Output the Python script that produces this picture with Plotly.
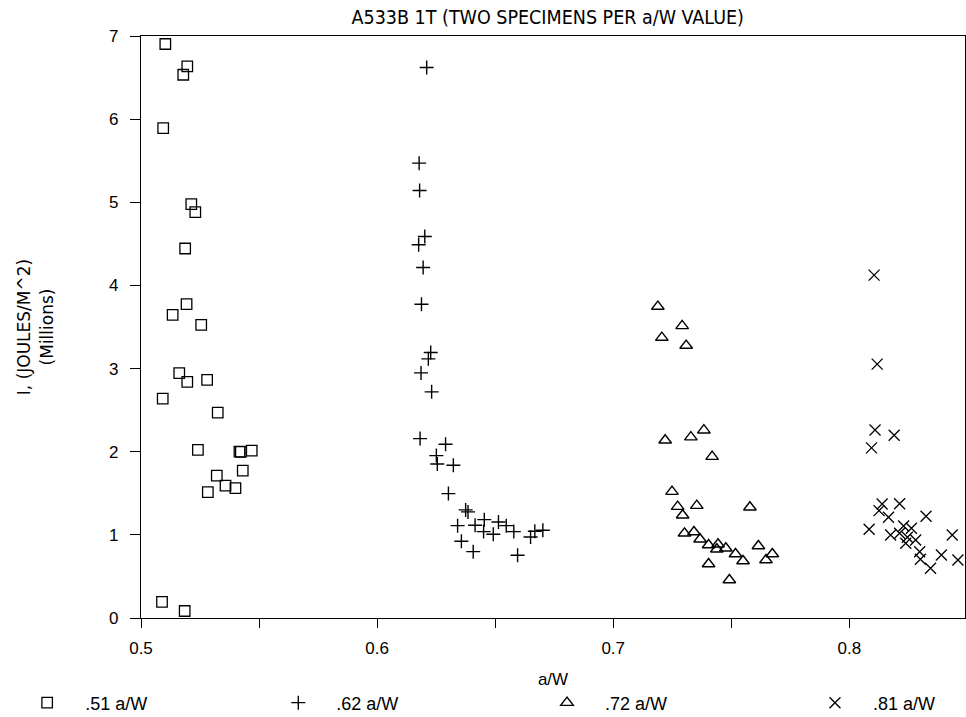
import plotly.graph_objects as go

# ---- data ----
sq_x = [0.5103, 0.5196, 0.5179, 0.5094, 0.5213, 0.5230, 0.5187, 0.5193, 0.5134, 0.5255,
        0.5162, 0.5196, 0.5280, 0.5092, 0.5325, 0.5241, 0.5417, 0.5423, 0.5469, 0.5431,
        0.5321, 0.5358, 0.5400, 0.5283, 0.5089, 0.5185]
sq_y = [6.904, 6.634, 6.534, 5.893, 4.978, 4.882, 4.444, 3.775, 3.646, 3.526,
        2.945, 2.840, 2.864, 2.639, 2.471, 2.022, 2.001, 1.998, 2.013, 1.773,
        1.712, 1.592, 1.561, 1.513, 0.193, 0.084]

pl_x = [0.6210, 0.6178, 0.6180, 0.6202, 0.6176, 0.6195, 0.6188, 0.6227, 0.6217, 0.6186,
        0.6231, 0.6182, 0.6290, 0.6251, 0.6255, 0.6323, 0.6302, 0.6375, 0.6385, 0.6341,
        0.6415, 0.6454, 0.6451, 0.6492, 0.6514, 0.6547, 0.6579, 0.6357, 0.6407, 0.6595,
        0.6650, 0.6668, 0.6702]
pl_y = [6.622, 5.471, 5.142, 4.588, 4.489, 4.215, 3.773, 3.193, 3.117, 2.948,
        2.720, 2.158, 2.090, 1.953, 1.853, 1.838, 1.496, 1.300, 1.276, 1.111,
        1.116, 1.183, 1.039, 1.007, 1.155, 1.111, 1.039, 0.923, 0.798, 0.755,
        0.975, 1.043, 1.055]

tr_x = [0.7189, 0.7292, 0.7206, 0.7309, 0.7384, 0.7329, 0.7220, 0.7419, 0.7249, 0.7354,
        0.7273, 0.7579, 0.7294, 0.7302, 0.7342, 0.7368, 0.7404, 0.7444, 0.7439, 0.7477,
        0.7518, 0.7615, 0.7550, 0.7674, 0.7647, 0.7404, 0.7492]
tr_y = [3.746, 3.514, 3.373, 3.277, 2.259, 2.175, 2.138, 1.941, 1.520, 1.351,
        1.339, 1.332, 1.236, 1.019, 1.035, 0.947, 0.878, 0.887, 0.827, 0.839,
        0.770, 0.866, 0.686, 0.770, 0.698, 0.650, 0.457]

xx_x = [0.8105, 0.8118, 0.8109, 0.8190, 0.8094, 0.8139, 0.8213, 0.8126, 0.8166, 0.8325,
        0.8084, 0.8230, 0.8263, 0.8175, 0.8213, 0.8246, 0.8281, 0.8239, 0.8436, 0.8298,
        0.8390, 0.8301, 0.8460, 0.8344]
xx_y = [4.124, 3.053, 2.262, 2.198, 2.046, 1.372, 1.375, 1.291, 1.211, 1.223,
        1.067, 1.107, 1.079, 0.999, 1.019, 0.971, 0.939, 0.899, 0.999, 0.797,
        0.758, 0.706, 0.698, 0.598]

series_names = [".51 a/W", ".62 a/W", ".72 a/W", ".81 a/W"]
x_tickvals = [0.5, 0.55, 0.6, 0.65, 0.7, 0.75, 0.8]
x_ticktext = ["0.5", "", "0.6", "", "0.7", "", "0.8"]
y_tickvals = [0, 1, 2, 3, 4, 5, 6, 7]

title_text = "A533B 1T (TWO SPECIMENS PER a/W VALUE)"
x_title = "a/W"
y_title = "I, (JOULES/M^2)<br>(Millions)"

narrow = "Liberation Sans Narrow, DejaVu Sans Condensed, Arial Narrow, sans-serif"
regular = "Liberation Sans, Arial, sans-serif"
wide = "DejaVu Sans, Verdana, sans-serif"

fig = go.Figure()
specs = [
    (sq_x, sq_y, "square-open", 10.5, 1.3, "legend"),
    (pl_x, pl_y, "cross-thin-open", 10, 1.4, "legend2"),
    (tr_x, tr_y, "triangle-up-open", 11, 1.4, "legend3"),
    (xx_x, xx_y, "x-thin-open", 11, 1.3, "legend4"),
]
for (xs, ys, sym, sz, lw, lg), name in zip(specs, series_names):
    fig.add_trace(go.Scatter(
        x=xs, y=ys, mode="markers", name=name, legend=lg, showlegend=True,
        marker=dict(symbol=sym, size=sz, color="black",
                    line=dict(color="black", width=lw)),
    ))

legend_common = dict(
    orientation="h", xanchor="left", y=-0.146, yanchor="middle",
    itemwidth=66, font=dict(family=regular, size=18, color="black"),
    bgcolor="rgba(0,0,0,0)", borderwidth=0,
)

fig.update_layout(
    width=966, height=717, showlegend=True,
    paper_bgcolor="white", plot_bgcolor="white",
    margin=dict(l=141, r=1, t=36, b=99, autoexpand=False),
    title=dict(text=title_text, x=0.567, xanchor="center", y=0.976, yanchor="middle",
               font=dict(family=narrow, size=19.5, color="black")),
    xaxis=dict(
        range=[0.5, 0.849], tickvals=x_tickvals, ticktext=x_ticktext,
        ticks="outside", ticklen=9, tickwidth=1.2, tickcolor="black",
        ticklabelstandoff=5,
        showline=True, linecolor="black", linewidth=1.3, mirror=True,
        showgrid=False, zeroline=False,
        tickfont=dict(family=regular, size=17, color="black"),
        title=dict(text=x_title, font=dict(family=regular, size=17, color="black"), standoff=16),
    ),
    yaxis=dict(
        range=[0, 7], tickvals=y_tickvals,
        ticks="outside", ticklen=10, tickwidth=1.2, tickcolor="black",
        ticklabelstandoff=8,
        showline=True, linecolor="black", linewidth=1.3, mirror=True,
        showgrid=False, zeroline=False,
        tickfont=dict(family=regular, size=17, color="black"),
        title=dict(text=y_title, font=dict(family=wide, size=17, color="black"), standoff=51),
    ),
    legend=dict(x=-0.160, **legend_common),
    legend2=dict(x=0.1448, **legend_common),
    legend3=dict(x=0.4709, **legend_common),
    legend4=dict(x=0.7961, **legend_common),
)

fig.write_html("out.html")
